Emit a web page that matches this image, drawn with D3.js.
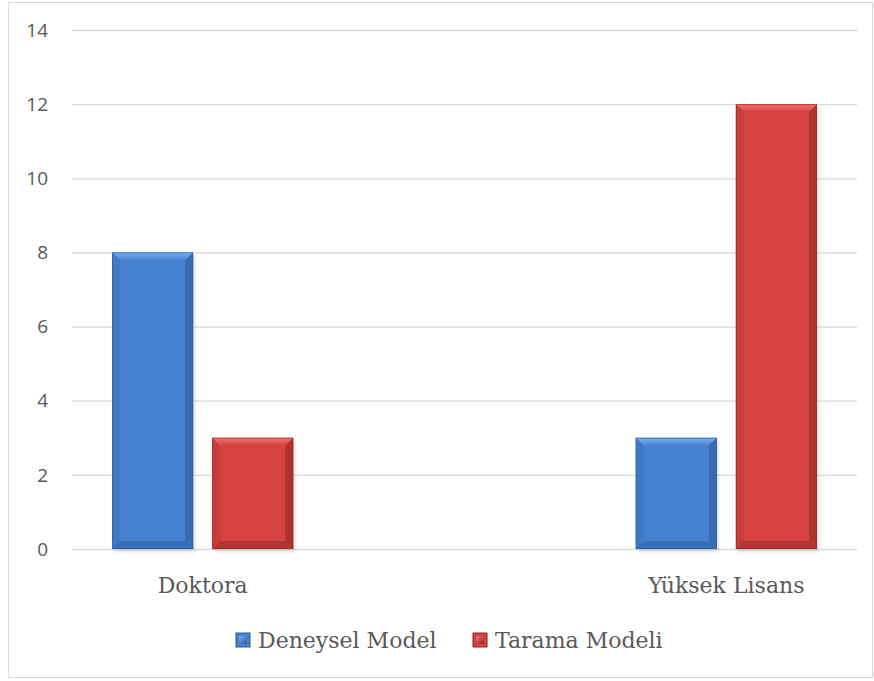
<!DOCTYPE html>
<html>
<head>
<meta charset="utf-8">
<script src="https://cdn.jsdelivr.net/npm/d3@7"></script>
<style>
  body { margin: 0; background: #fff; }
  svg { display: block; }
</style>
</head>
<body>
<div id="chart"></div>
<script>
const categories = ['Doktora', 'Yüksek Lisans'];
const seriesNames = ['Deneysel Model', 'Tarama Modeli'];
const deneysel = [8, 3];
const tarama = [3, 12];
const yTicks = [0, 2, 4, 6, 8, 10, 12, 14];

const W = 874, H = 681;
const plotL = 72, plotR = 857, plotT = 30, plotB = 549;

const palette = {
  'Deneysel Model': {main: '#4681d0', light: '#7db1f2', dark: '#2a5896', side: '#3b6fb7'},
  'Tarama Modeli': {main: '#d6423f', light: '#f5746f', dark: '#8c2421', side: '#b93633'}
};

const svg = d3.select('#chart').append('svg')
  .attr('width', W).attr('height', H);

// outer frame
svg.append('rect').attr('x', 8.5).attr('y', 2.5).attr('width', 864).attr('height', 675)
  .attr('fill', '#fff').attr('stroke', '#d9d9d9');

const y = d3.scaleLinear().domain([0, 14]).range([plotB, plotT]);
const x0 = d3.scaleBand().domain(categories).range([plotL, plotR])
  .paddingInner(0.654).paddingOuter(0.0765);
const x1 = d3.scaleBand().domain(seriesNames).range([0, x0.bandwidth()])
  .paddingInner(0.19);

// gridlines
svg.append('g').selectAll('line').data(yTicks).enter().append('line')
  .attr('x1', plotL).attr('x2', plotR)
  .attr('y1', d => y(d) + 0.5).attr('y2', d => y(d) + 0.5)
  .attr('stroke', '#d9d9d9').attr('stroke-width', 1.3);

// y labels
svg.append('g').selectAll('text').data(yTicks).enter().append('text')
  .attr('x', 48).attr('y', d => y(d)).attr('dy', '0.35em')
  .attr('text-anchor', 'end')
  .attr('font-family', 'Open Sans, sans-serif').attr('font-size', 19)
  .attr('fill', '#595959').text(d => d);

const rows = [];
categories.forEach((c, i) => {
  rows.push({cat: c, s: 'Deneysel Model', v: deneysel[i]});
  rows.push({cat: c, s: 'Tarama Modeli', v: tarama[i]});
});

const defs = svg.append('defs');
defs.append('filter').attr('id', 'blur').append('feGaussianBlur').attr('stdDeviation', 1.5);
Object.keys(palette).forEach((k, i) => {
  palette[k].key = i;
  const gr = defs.append('linearGradient').attr('id', 'top-' + i)
    .attr('x1', 0).attr('x2', 0).attr('y1', 0).attr('y2', 1);
  gr.append('stop').attr('offset', 0).attr('stop-color', palette[k].light);
  gr.append('stop').attr('offset', 1).attr('stop-color', palette[k].main);
  const mg = defs.append('linearGradient').attr('id', 'mark-' + i)
    .attr('x1', 0).attr('x2', 1).attr('y1', 0).attr('y2', 1);
  mg.append('stop').attr('offset', 0).attr('stop-color', palette[k].light);
  mg.append('stop').attr('offset', 1).attr('stop-color', palette[k].dark);
});

function bevelBar(g, x, yTop, w, h, col, b) {
  // shadow
  g.append('rect').attr('x', x + 2).attr('y', yTop + 3).attr('width', w).attr('height', h)
    .attr('fill', '#000').attr('opacity', 0.12).attr('filter', 'url(#blur)');
  g.append('rect').attr('x', x).attr('y', yTop).attr('width', w).attr('height', h)
    .attr('fill', col.main);
  const x2 = x + w, y2 = yTop + h;
  const poly = pts => g.append('polygon').attr('points', pts.map(p => p.join(',')).join(' '));
  poly([[x, yTop], [x2, yTop], [x2 - b, yTop + b], [x + b, yTop + b]]).attr('fill', 'url(#top-' + col.key + ')');
  poly([[x, yTop], [x + b, yTop + b], [x + b, y2 - b], [x, y2]]).attr('fill', col.side).attr('opacity', 0.45);
  poly([[x2, yTop], [x2, y2], [x2 - b, y2 - b], [x2 - b, yTop + b]]).attr('fill', col.dark).attr('opacity', 0.5);
  poly([[x, y2], [x2, y2], [x2 - b, y2 - b], [x + b, y2 - b]]).attr('fill', col.dark).attr('opacity', 0.45);
  g.append('rect').attr('x', x + 0.5).attr('y', yTop + 0.5).attr('width', w - 1).attr('height', h - 1)
    .attr('fill', 'none').attr('stroke', col.dark).attr('stroke-opacity', 0.6);
}

const barsG = svg.append('g');
rows.forEach(r => {
  const bx = x0(r.cat) + x1(r.s);
  bevelBar(barsG, bx, y(r.v), x1.bandwidth(), y(0) - y(r.v), palette[r.s], 8);
});

// category labels
svg.append('g').selectAll('text').data(categories).enter().append('text')
  .attr('x', d => x0(d) + x0.bandwidth() / 2).attr('y', 593)
  .attr('text-anchor', 'middle')
  .attr('font-family', 'DejaVu Serif, serif').attr('font-size', 22)
  .attr('fill', '#595959').text(d => d);

// legend
const legendX = [236, 473];
const lg = svg.append('g');
seriesNames.forEach((s, i) => {
  const col = palette[s];
  lg.append('rect').attr('x', legendX[i]).attr('y', 633).attr('width', 14).attr('height', 14)
    .attr('fill', col.main).attr('stroke', col.dark).attr('stroke-width', 1);
  lg.append('rect').attr('x', legendX[i] + 3).attr('y', 636).attr('width', 8).attr('height', 8)
    .attr('fill', 'url(#mark-' + i + ')');
  lg.append('text').attr('x', legendX[i] + 22).attr('y', 640).attr('dy', '0.35em')
    .attr('font-family', 'DejaVu Serif, serif').attr('font-size', 22)
    .attr('fill', '#595959').text(s);
});
</script>
</body>
</html>
